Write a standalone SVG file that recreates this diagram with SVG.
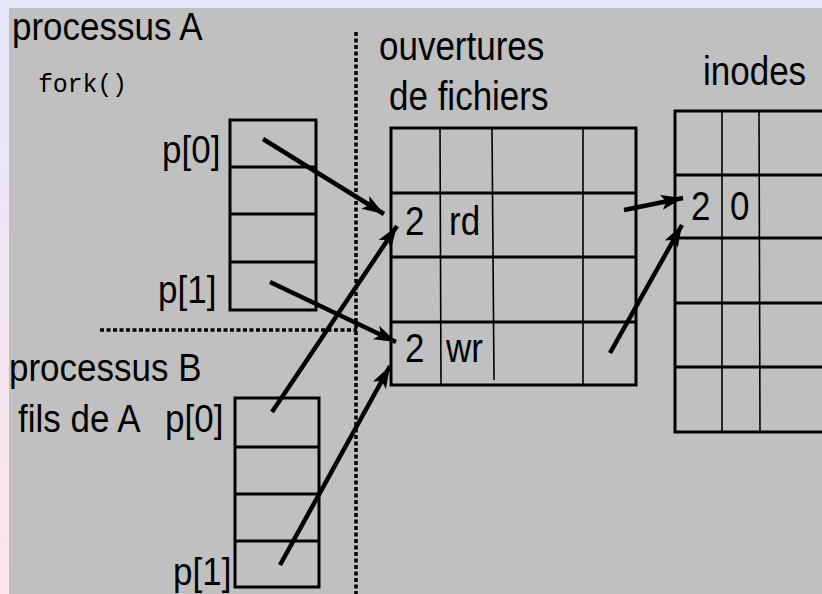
<svg xmlns="http://www.w3.org/2000/svg" width="822" height="594" viewBox="0 0 822 594">
<defs>
<linearGradient id="bg" x1="0" y1="0" x2="0" y2="1">
<stop offset="0" stop-color="#e6e6fa"/>
<stop offset="1" stop-color="#fce4ea"/>
</linearGradient>
<marker id="ah" markerUnits="userSpaceOnUse" markerWidth="24" markerHeight="16" refX="22" refY="7.5" orient="auto">
<path d="M0,0 L22,7.5 L0,15 L5,7.5 z" fill="#000"/>
</marker>
<style>
.t{font-family:"Liberation Sans",Arial,sans-serif;font-size:35px;fill:#000}
.m{font-family:"Liberation Mono","Courier New",monospace;font-size:25px;fill:#000}
.box{fill:none;stroke:#000;stroke-width:3}
.hl{stroke:#000;stroke-width:3}
.vl{stroke:#000;stroke-width:1.6}
.arr{stroke:#000;stroke-width:4.5;fill:none;marker-end:url(#ah)}
.dot{stroke:#000;stroke-width:3.5;stroke-dasharray:4 2.5;fill:none}
</style>
</defs>
<rect x="0" y="0" width="822" height="594" fill="url(#bg)"/>
<rect x="9" y="8" width="813" height="586" fill="#c0c0c0"/>

<g id="processusA">
<text class="t" transform="translate(12,40) scale(1,1.12)">processus A</text>
<text class="m" x="38" y="92" textLength="89" lengthAdjust="spacing">fork()</text>
</g>

<g id="pipeA">
<rect class="box" x="230" y="120" width="86" height="190"/>
<line class="hl" x1="230" y1="167" x2="316" y2="167"/>
<line class="hl" x1="230" y1="214" x2="316" y2="214"/>
<line class="hl" x1="230" y1="262" x2="316" y2="262"/>
<text class="t" transform="translate(162,163) scale(1,1.12)">p[0]</text>
<text class="t" transform="translate(158,303) scale(1,1.12)">p[1]</text>
</g>

<g id="processusB">
<text class="t" transform="translate(9,381) scale(1,1.12)">processus B</text>
<text class="t" transform="translate(18,432) scale(1,1.12)">fils de A</text>
</g>

<g id="pipeB">
<rect class="box" x="235" y="398" width="84" height="189"/>
<line class="hl" x1="235" y1="447" x2="319" y2="447"/>
<line class="hl" x1="235" y1="494" x2="319" y2="494"/>
<line class="hl" x1="235" y1="541" x2="319" y2="541"/>
<text class="t" transform="translate(165,432) scale(1,1.12)">p[0]</text>
<text class="t" transform="translate(173,585) scale(1,1.12)">p[1]</text>
</g>

<g id="separators">
<line class="dot" x1="356" y1="32" x2="356" y2="594"/>
<line class="dot" x1="100" y1="330" x2="357" y2="330"/>
</g>

<g id="fichiers">
<text class="t" transform="translate(379,60) scale(1,1.15)">ouvertures</text>
<text class="t" transform="translate(389,110) scale(1,1.15)">de fichiers</text>
<rect class="box" x="391" y="128" width="245" height="257"/>
<line class="hl" x1="391" y1="193" x2="636" y2="193"/>
<line class="hl" x1="391" y1="257" x2="636" y2="257"/>
<line class="hl" x1="391" y1="322" x2="636" y2="322"/>
<line class="vl" x1="440" y1="128" x2="441" y2="385"/>
<line class="vl" x1="492" y1="128" x2="494" y2="380"/>
<line class="vl" x1="583" y1="128" x2="583" y2="385"/>
<text class="t" transform="translate(405,235) scale(1,1.15)">2</text>
<text class="t" transform="translate(449,235) scale(1,1.15)">rd</text>
<text class="t" transform="translate(405,362) scale(1,1.15)">2</text>
<text class="t" transform="translate(446,362) scale(1,1.15)">wr</text>
</g>

<g id="inodes">
<text class="t" transform="translate(703,85) scale(1,1.15)">inodes</text>
<polyline class="box" points="830,111 675,111 675,432 830,432"/>
<line class="hl" x1="675" y1="175" x2="822" y2="175"/>
<line class="hl" x1="675" y1="238" x2="822" y2="238"/>
<line class="hl" x1="675" y1="303" x2="822" y2="303"/>
<line class="hl" x1="675" y1="367" x2="822" y2="367"/>
<line class="vl" x1="722" y1="111" x2="722" y2="432"/>
<line class="vl" x1="759" y1="111" x2="760" y2="432"/>
<text class="t" transform="translate(691,220) scale(1,1.15)">2</text>
<text class="t" transform="translate(730,220) scale(1,1.15)">0</text>
</g>

<g id="connectors">
<line class="arr" x1="263" y1="139" x2="384" y2="214"/>
<line class="arr" x1="270" y1="282" x2="396" y2="342"/>
<line class="arr" x1="272" y1="412" x2="397" y2="226"/>
<line class="arr" x1="280" y1="565" x2="390" y2="366"/>
<line class="arr" x1="624" y1="210" x2="683" y2="198"/>
<line class="arr" x1="610" y1="353" x2="682" y2="225"/>
</g>
</svg>
